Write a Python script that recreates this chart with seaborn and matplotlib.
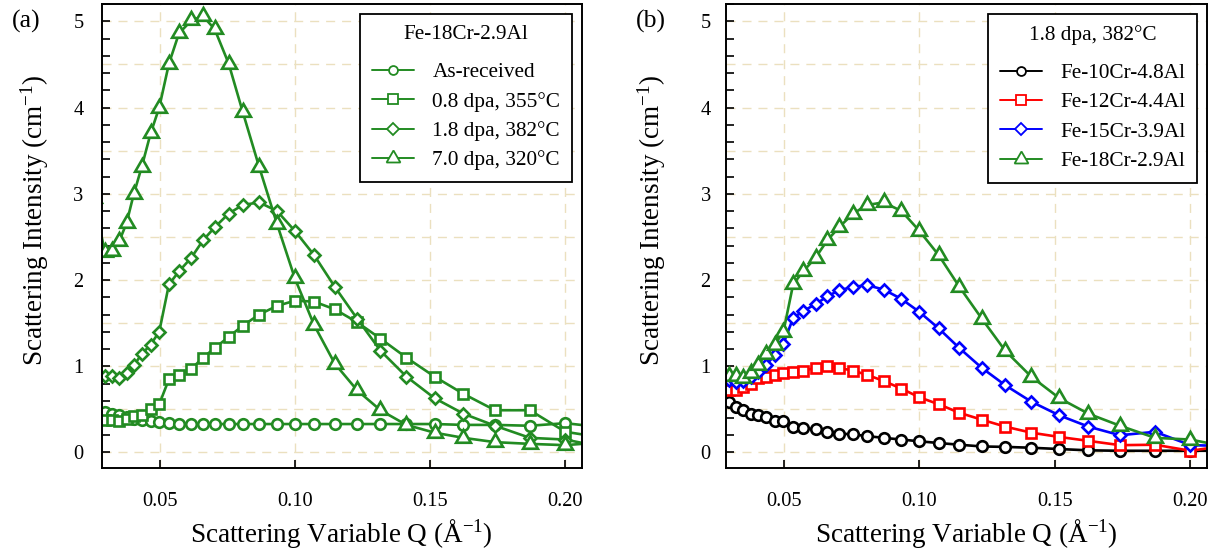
import numpy as np
import matplotlib
matplotlib.use("Agg")
import matplotlib.pyplot as plt
from matplotlib.lines import Line2D
from matplotlib.ticker import MultipleLocator, NullLocator
import seaborn as sns

nan = np.nan

# Scattering variable Q (1/Å); the first and last points sit just outside the plotted window
q = [0.0255, 0.0297, 0.0322, 0.0350, 0.0377, 0.0404, 0.0433, 0.0466, 0.0498,
     0.0534, 0.0571, 0.0617, 0.0660, 0.0703, 0.0755, 0.0807, 0.0868, 0.0934,
     0.1000, 0.1071, 0.1148, 0.1231, 0.1317, 0.1413, 0.1517, 0.1624, 0.1741,
     0.1870, 0.2001, 0.2145]

# (a) Fe-18Cr-2.9Al under different irradiation conditions
as_received = [nan, 0.47, 0.45, 0.43, 0.41, 0.39, 0.38, 0.37, 0.355,
               0.34, 0.335, 0.33, 0.33, 0.33, 0.33, 0.33, 0.33, 0.33,
               0.33, 0.33, 0.33, 0.33, 0.33, 0.33, 0.33, 0.32, 0.32,
               0.31, 0.34, 0.29]
dpa08_355C = [nan, 0.38, 0.38, 0.37, 0.39, 0.42, 0.44, 0.51, 0.56,
              0.85, 0.90, 0.97, 1.10, 1.21, 1.34, 1.47, 1.60, 1.70,
              1.76, 1.75, 1.66, 1.51, 1.32, 1.10, 0.88, 0.68, 0.49,
              0.49, 0.24, 0.17]
dpa18_382C = [nan, 0.89, 0.89, 0.86, 0.92, 1.01, 1.14, 1.25, 1.40,
              1.95, 2.10, 2.26, 2.46, 2.61, 2.77, 2.87, 2.90, 2.80,
              2.57, 2.29, 1.92, 1.55, 1.18, 0.88, 0.63, 0.45, 0.31,
              0.17, 0.15, 0.06]
dpa70_320C = [2.95, 2.32, 2.34, 2.45, 2.66, 3.00, 3.31, 3.70, 4.00,
              4.51, 4.86, 5.01, 5.06, 4.91, 4.51, 3.95, 3.31, 2.65,
              2.02, 1.48, 1.03, 0.72, 0.49, 0.32, 0.23, 0.17, 0.12,
              0.10, 0.085, 0.12]

# (b) alloy series after 1.8 dpa at 382°C
fe10cr = [0.76, 0.59, 0.53, 0.49, 0.45, 0.43, 0.41, 0.37, 0.37,
          0.30, 0.28, 0.27, 0.24, 0.22, 0.21, 0.19, 0.17, 0.15,
          0.13, 0.11, 0.09, 0.07, 0.065, 0.055, 0.04, 0.025, 0.02,
          0.02, 0.02, 0.02]
fe12cr = [nan, 0.72, 0.73, 0.76, 0.79, 0.86, 0.88, 0.90, 0.92,
          0.93, 0.95, 0.98, 1.00, 0.98, 0.95, 0.90, 0.83, 0.74,
          0.64, 0.56, 0.46, 0.38, 0.30, 0.23, 0.18, 0.135, 0.085,
          0.09, 0.02, 0.085]
fe15cr = [nan, 0.84, 0.82, 0.83, 0.88, 0.93, 1.01, 1.13, 1.26,
          1.56, 1.64, 1.72, 1.81, 1.88, 1.92, 1.94, 1.89, 1.78,
          1.63, 1.44, 1.21, 0.98, 0.78, 0.59, 0.43, 0.30, 0.20,
          0.24, 0.085, 0.075]
fe18cr = dpa18_382C

labels_a = ["As-received", "0.8 dpa, 355°C", "1.8 dpa, 382°C", "7.0 dpa, 320°C"]
labels_b = ["Fe-10Cr-4.8Al", "Fe-12Cr-4.4Al", "Fe-15Cr-3.9Al", "Fe-18Cr-2.9Al"]
title_a = "Fe-18Cr-2.9Al"
title_b = "1.8 dpa, 382°C"
x_label = "Scattering Variable Q (Å$^{-1}$)"
y_label = "Scattering Intensity (cm$^{-1}$)"
x_ticks = [0.05, 0.10, 0.15, 0.20]

# ---- styling -------------------------------------------------------------
GREEN = "#228B22"
GRID = "#EBE0BF"
TRI = (3, 0, 0)                       # equilateral open triangle
markers = ["o", "s", "D", TRI]
plot_ms = [7.6, 6.8, 5.8, 12.3]
legend_ms = [6.4, 6.6, 5.8, 11.5]
LW = 1.9

sns.set_theme(style="ticks")
plt.rcParams.update({
    "font.family": ["Liberation Serif", "DejaVu Serif"],
    "mathtext.fontset": "custom",
    "mathtext.rm": "Liberation Serif",
    "mathtext.it": "Liberation Serif:italic",
    "mathtext.bf": "Liberation Serif:bold",
    "axes.edgecolor": "black",
    "axes.linewidth": 1.4,
    "axes.facecolor": "white",
    "figure.facecolor": "white",
    "lines.scale_dashes": False,
    "text.color": "black",
    "axes.labelcolor": "black",
    "xtick.color": "black",
    "ytick.color": "black",
})

fig = plt.figure(figsize=(12.15, 5.54), dpi=100)
ax_a = fig.add_axes([0.0837, 0.1552, 0.3951, 0.8375])
ax_b = fig.add_axes([0.5973, 0.1552, 0.3961, 0.8375])


def style_axes(ax, ypad, ylabel_x):
    ax.set_xlim(0.0285, 0.2062)
    ax.set_ylim(-0.18, 5.2)
    ax.xaxis.set_major_locator(MultipleLocator(0.05))
    ax.xaxis.set_minor_locator(NullLocator())
    ax.yaxis.set_major_locator(MultipleLocator(1))
    ax.yaxis.set_minor_locator(MultipleLocator(0.2))
    ax.set_xticks(x_ticks)
    ax.tick_params(axis="both", which="both", direction="in", length=6,
                   width=1.2, labelsize=14.7, top=False, right=False)
    ax.tick_params(axis="x", pad=17.5)
    ax.tick_params(axis="y", pad=ypad)
    ax.set_axisbelow(True)
    ax.xaxis.grid(True, which="major", color=GRID, lw=1.0, ls=(0, (6.5, 5)))
    for v in np.arange(0, 5.01, 0.5):
        ax.axhline(v, color=GRID, lw=1.0, ls=(0, (6.5, 5)), zorder=0.5)
    ax.set_xlabel(x_label, fontsize=19.5, labelpad=4)
    ax.set_ylabel(y_label, fontsize=19.5)
    ax.yaxis.set_label_coords(ylabel_x, 0.534)
    for s in ax.spines.values():
        s.set_linewidth(1.4)
        s.set_color("black")


def draw_series(ax, series, colors):
    for vals, color, marker, ms in zip(series, colors, markers, plot_ms):
        sns.lineplot(x=q, y=vals, ax=ax, color=color, marker=marker,
                     markersize=ms, markerfacecolor="white",
                     markeredgecolor=color, markeredgewidth=LW, linewidth=LW,
                     estimator=None, errorbar=None, sort=False, legend=False)


def add_legend(ax, title, labels, colors):
    handles = [Line2D([], [], color=c, lw=1.4, marker=m, ms=s,
                      mfc="white", mec=c, mew=1.3)
               for c, m, s in zip(colors, markers, legend_ms)]
    leg = ax.legend(handles, labels, title=title, loc="upper right",
                    fontsize=15.3, title_fontsize=15.3, frameon=True,
                    fancybox=False, edgecolor="black", framealpha=1,
                    borderpad=0.55, labelspacing=0.45, handlelength=2.0,
                    handletextpad=0.85, borderaxespad=0.45, numpoints=1)
    leg.get_frame().set_linewidth(1.3)
    leg._legend_box.sep += 6
    return leg


colors_a = [GREEN] * 4
colors_b = ["black", "#FF0000", "#0000FF", GREEN]

draw_series(ax_a, [as_received, dpa08_355C, dpa18_382C, dpa70_320C], colors_a)
draw_series(ax_b, [fe10cr, fe12cr, fe15cr, fe18cr], colors_b)

style_axes(ax_a, ypad=13.0, ylabel_x=-0.105)
style_axes(ax_b, ypad=10.8, ylabel_x=-0.12)

add_legend(ax_a, title_a, labels_a, colors_a)
add_legend(ax_b, title_b, labels_b, colors_b)

fig.text(0.0099, 0.962, "(a)", fontsize=18.5, va="center", ha="left")
fig.text(0.5235, 0.962, "(b)", fontsize=18.5, va="center", ha="left")

fig.savefig("out.png", dpi=100)
